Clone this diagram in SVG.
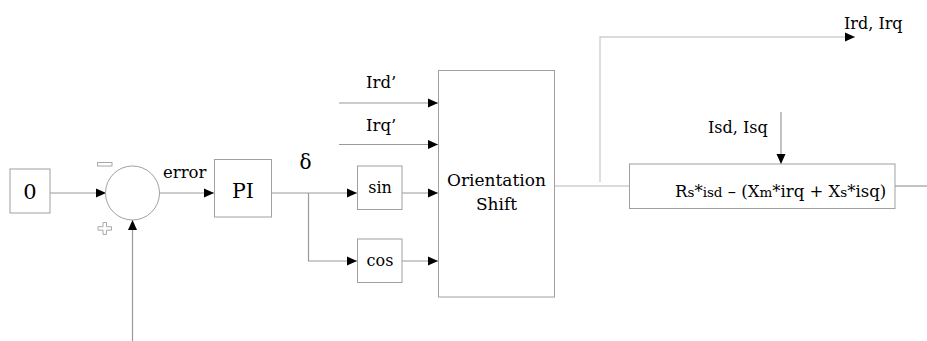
<svg xmlns="http://www.w3.org/2000/svg" width="927" height="341" viewBox="0 0 927 341">
  <defs>
    <marker id="arrow" markerUnits="userSpaceOnUse" markerWidth="10" markerHeight="10" viewBox="0 0 10 10" refX="10" refY="5" orient="auto">
      <path d="M0,0.5 L10,5 L0,9.5 Z" fill="#000"/>
    </marker>
    <style>
      .box { fill: #fff; stroke: #a0a0a0; stroke-width: 1; }
      .wire { fill: none; stroke: #9a9a9a; stroke-width: 1.2; }
      .wire-light { fill: none; stroke: #cfcfcf; stroke-width: 1.4; }
      .arr { marker-end: url(#arrow); }
      text { font-family: "DejaVu Serif", "Liberation Serif", serif; fill: #000; }
      .lbl { font-size: 16.5px; }
      .lbl2 { font-size: 16px; }
      .mid { text-anchor: middle; }
      .small { font-size: 13.5px; }
      .sign { fill: none; stroke: #a8a8a8; stroke-width: 1; }
    </style>
  </defs>

  <rect width="927" height="341" fill="#fff"/>

  <!-- connectors -->
  <g id="connectors">
    <line class="wire arr" x1="50" y1="193" x2="106" y2="193"/>
    <line class="wire arr" x1="159" y1="193" x2="214" y2="193"/>
    <line class="wire arr" x1="132.5" y1="341" x2="132.5" y2="220"/>
    <polyline class="wire" points="272,193 308.5,193"/>
    <line class="wire arr" x1="308.5" y1="193" x2="357" y2="193"/>
    <polyline class="wire arr" points="308.5,193 308.5,261 357,261"/>
    <line class="wire arr" x1="402" y1="193" x2="438" y2="193"/>
    <line class="wire arr" x1="402" y1="261" x2="438" y2="261"/>
    <line class="wire arr" x1="339" y1="103" x2="438" y2="103"/>
    <line class="wire arr" x1="339" y1="144.5" x2="438" y2="144.5"/>
    <line class="wire-light" x1="554" y1="186" x2="629" y2="186"/>
    <polyline class="wire-light arr" points="600,182 600,37 855,37"/>
    <line class="wire arr" x1="781" y1="112" x2="781" y2="164"/>
    <line class="wire" x1="895" y1="186" x2="927" y2="186"/>
  </g>

  <!-- constant reference -->
  <g id="const0">
    <rect class="box" x="10" y="169" width="40" height="44"/>
    <text x="30" y="199" class="mid" font-size="21">0</text>
  </g>

  <!-- summing junction -->
  <g id="sum">
    <circle cx="132.5" cy="193" r="27" fill="#fff" stroke="#a0a0a0" stroke-width="1"/>
    <rect class="sign" x="97.5" y="162.5" width="14.5" height="3.5"/>
    <path class="sign" d="M103,222.5 h3.5 v4.2 h5 v3.5 h-5 v4.2 h-3.5 v-4.2 h-5 v-3.5 h5 Z"/>
  </g>

  <g id="error-label">
    <text x="163" y="178" class="lbl">error</text>
  </g>

  <!-- PI controller -->
  <g id="pi">
    <rect class="box" x="214.5" y="159.5" width="57" height="57.5"/>
    <text x="243" y="198" class="mid" font-size="20.5">PI</text>
  </g>

  <g id="delta-label">
    <text x="305.5" y="169" class="mid" font-size="20">δ</text>
  </g>

  <!-- trig blocks -->
  <g id="sin">
    <rect class="box" x="357.5" y="166" width="44.5" height="43.5"/>
    <text x="380" y="193" class="mid" font-size="16">sin</text>
  </g>
  <g id="cos">
    <rect class="box" x="357.5" y="239" width="44.5" height="43.5"/>
    <text x="380" y="266" class="mid" font-size="16">cos</text>
  </g>

  <g id="rotor-inputs">
    <text x="366" y="88" class="lbl">Ird’</text>
    <text x="366" y="131" class="lbl">Irq’</text>
  </g>

  <!-- orientation shift block -->
  <g id="orientation">
    <rect class="box" x="438.5" y="70.5" width="116" height="226.5"/>
    <text x="496.5" y="186" class="mid" font-size="17">Orientation</text>
    <text x="496.5" y="210" class="mid" font-size="17">Shift</text>
  </g>

  <g id="rotor-outputs">
    <text x="844" y="29" class="lbl2">Ird, Irq</text>
  </g>

  <g id="stator-inputs">
    <text x="708" y="133" class="lbl2">Isd, Isq</text>
  </g>

  <!-- voltage expression block -->
  <g id="expression">
    <rect class="box" x="629.5" y="164" width="265.5" height="44.5"/>
    <text x="675" y="197" font-size="16.5">R<tspan class="small">s</tspan>*<tspan class="small">isd</tspan> – (X<tspan class="small">m</tspan>*irq + X<tspan class="small">s</tspan>*isq)</text>
  </g>
</svg>
